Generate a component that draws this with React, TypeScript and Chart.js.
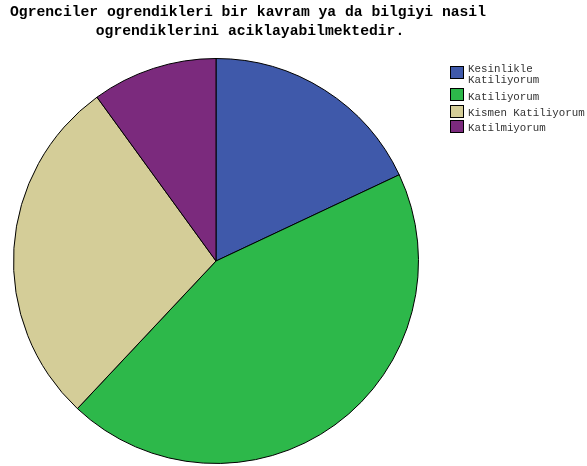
import React, { useEffect, useRef } from "react";
import { Chart, registerables } from "chart.js";

Chart.register(...registerables);

const titleLines = [
  "Ogrenciler ogrendikleri bir kavram ya da bilgiyi nasil",
  "ogrendiklerini aciklayabilmektedir.",
];
const categories = ["Kesinlikle Katiliyorum", "Katiliyorum", "Kismen Katiliyorum", "Katilmiyorum"];
const legendLines = [["Kesinlikle", "Katiliyorum"], ["Katiliyorum"], ["Kismen Katiliyorum"], ["Katilmiyorum"]];
const values = [18, 44, 28, 10];
const colors = ["#3F59AA", "#2DB84A", "#D4CD98", "#7B2A7D"];

const overlay = {
  id: "overlay",
  afterDraw(chart: any) {
    const ctx = chart.ctx;
    ctx.save();
    ctx.fillStyle = "#000";
    ctx.font = "bold 14.7px 'Liberation Mono', monospace";
    ctx.textAlign = "center";
    ctx.textBaseline = "middle";
    ctx.fillText(titleLines[0], 248, 12);
    ctx.fillText(titleLines[1], 250, 31);
    ctx.font = "10.8px 'Liberation Mono', monospace";
    ctx.textAlign = "left";
    const boxY = [66, 88, 105, 120];
    let lineY = [[69, 80], [97], [113], [128]];
    for (let i = 0; i < categories.length; i++) {
      ctx.fillStyle = colors[i];
      ctx.fillRect(450.5, boxY[i] + 0.5, 13, 12);
      ctx.strokeStyle = "#000";
      ctx.lineWidth = 1;
      ctx.strokeRect(450.5, boxY[i] + 0.5, 13, 12);
      ctx.fillStyle = "#333";
      legendLines[i].forEach((t, j) => ctx.fillText(t, 468, lineY[i][j]));
    }
    ctx.restore();
  },
};

export default function App() {
  const ref = useRef<HTMLCanvasElement>(null);
  useEffect(() => {
    const chart = new Chart(ref.current!, {
      type: "pie",
      data: {
        labels: categories,
        datasets: [
          {
            data: values,
            backgroundColor: colors,
            borderColor: "#000",
            borderWidth: 1,
          },
        ],
      },
      options: {
        animation: false,
        responsive: false,
        layout: { padding: { left: 13, top: 58, right: 168, bottom: 2 } },
        plugins: { legend: { display: false }, title: { display: false }, tooltip: { enabled: false } },
      },
      plugins: [overlay],
    });
    return () => chart.destroy();
  }, []);
  return (
    <div style={{ position: "fixed", left: 0, top: 0, width: 587, height: 466, background: "#fff" }}>
      <canvas ref={ref} width={587} height={466} style={{ width: 587, height: 466 }} />
    </div>
  );
}
